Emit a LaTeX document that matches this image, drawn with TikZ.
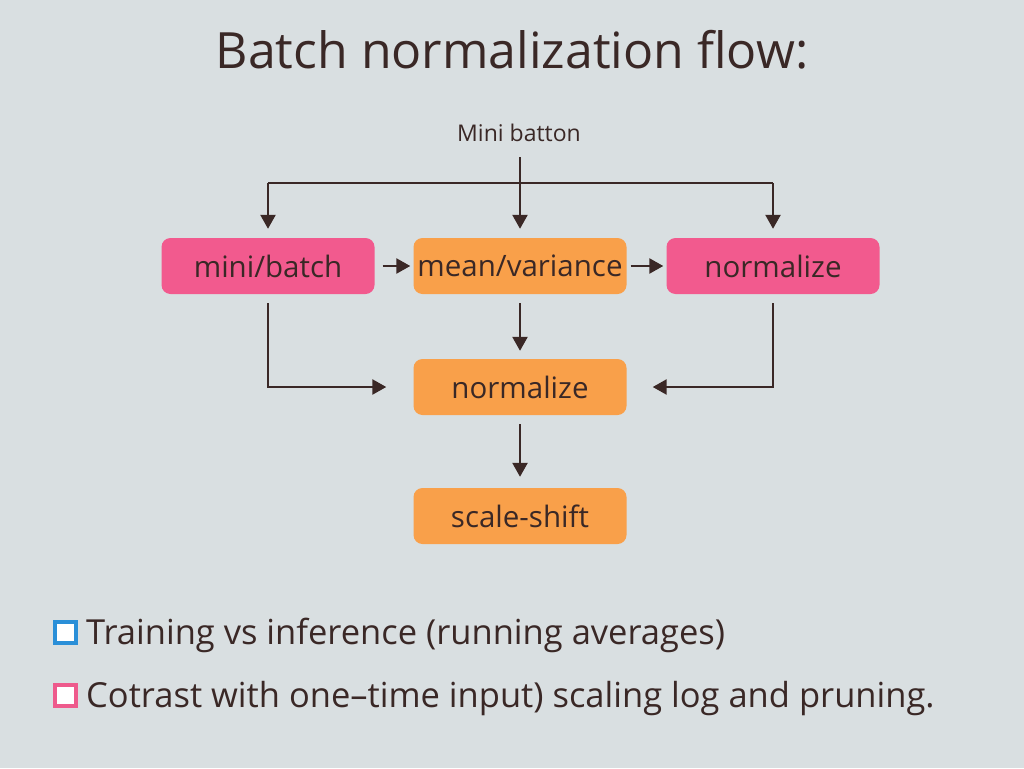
\documentclass[tikz,border=0pt]{standalone}
\usepackage{fontspec}
\setmainfont{Open Sans}
\usetikzlibrary{arrows.meta,calc}
\definecolor{bg}{HTML}{D9DFE1}
\definecolor{ink}{HTML}{3A2826}
\definecolor{pinkbox}{HTML}{F25A8E}
\definecolor{orangebox}{HTML}{F9A04A}
\definecolor{legblue}{HTML}{2A8FD8}
\definecolor{legpink}{HTML}{EE5A8C}
\begin{document}
\begin{tikzpicture}[x=1pt,y=-1pt,
  box/.style={rounded corners=9pt, minimum width=213pt, minimum height=56pt, inner sep=0pt, text=ink, font=\fontsize{29.5}{34}\selectfont},
  pinkstep/.style={box, fill=pinkbox},
  orangestep/.style={box, fill=orangebox},
  conn/.style={draw=ink, line width=2.5pt},
  arr/.style={conn, -{Triangle[length=14pt,width=15pt]}},
  legbox/.style={draw=#1, fill=white, line width=4pt, minimum size=21pt, inner sep=0pt},
  legtext/.style={anchor=base west, text=ink, font=\fontsize{34.5}{40}\selectfont, inner sep=0pt}
]
\useasboundingbox (0,0) rectangle (1024,768);
\fill[bg] (0,0) rectangle (1024,768);

\node[text=ink, font=\fontsize{50}{56}\selectfont] (title) at (512,50) {Batch normalization flow:};
\node[text=ink, font=\fontsize{23}{27}\selectfont] (src) at (519,133) {Mini batton};

\node[pinkstep] (mb) at (268,266) {mini/batch};
\node[orangestep] (mv) at (520,266) {mean/variance};
\node[pinkstep] (nr) at (773,266) {normalize};
\node[orangestep] (nm) at (520,387) {normalize};
\node[orangestep] (ss) at (520,516) {scale-shift};

\coordinate (j) at (519,183);
\draw[conn] (mb.north |- j) -- (nr.north |- j);
\draw[arr, shorten <=12pt, shorten >=9pt] (src.south -| mv.north) -- (mv.north);
\draw[arr, shorten >=9pt] (mb.north |- j) -- (mb.north);
\draw[arr, shorten >=9pt] (nr.north |- j) -- (nr.north);

\draw[arr, shorten <=8pt, shorten >=3pt] (mb.east) -- (mv.west);
\draw[arr, shorten <=4pt, shorten >=3pt] (mv.east) -- (nr.west);

\draw[arr, shorten <=9pt, shorten >=8pt] (mv.south) -- (nm.north);
\draw[arr, shorten <=9pt, shorten >=11pt] (nm.south) -- (ss.north);
\draw[arr, shorten <=9pt, shorten >=27pt] (mb.south) |- (nm.west);
\draw[arr, shorten <=9pt, shorten >=26pt] (nr.south) |- (nm.east);

\node[legbox=legblue] (lb1) at (65,632) {};
\node[legtext] (lt1) at (86,644) {Training vs inference (running averages)};
\node[legbox=legpink] (lb2) at (65,695) {};
\node[legtext] (lt2) at (86,707) {Cotrast with one–time input) scaling log and pruning.};
\end{tikzpicture}
\end{document}
